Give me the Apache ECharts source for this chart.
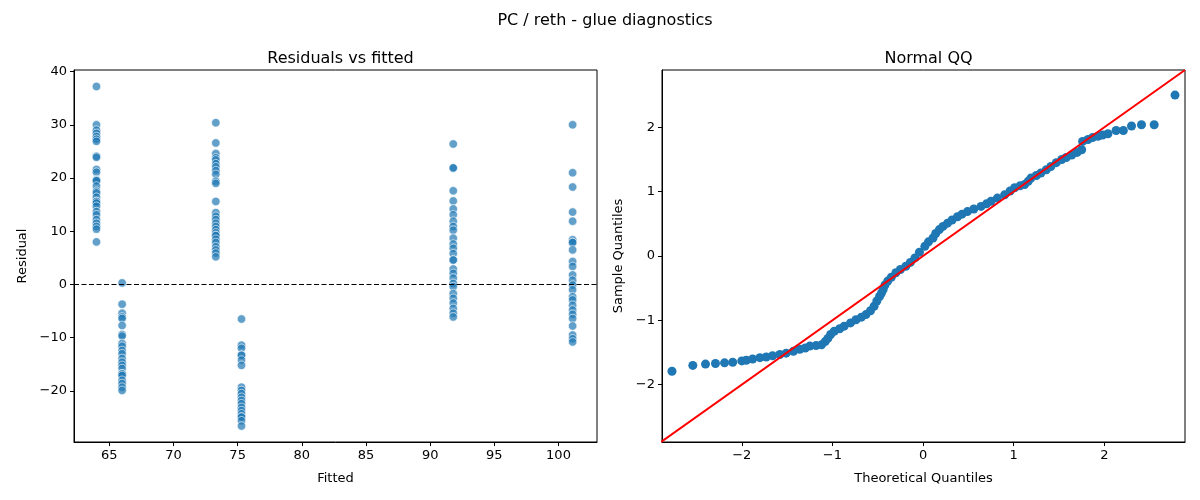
<!DOCTYPE html>
<html>
<head>
<meta charset="utf-8">
<script src="https://cdn.jsdelivr.net/npm/echarts@6/dist/echarts.min.js"></script>
<style>
html, body { margin: 0; padding: 0; background: #fff; }
#chart { width: 1200px; height: 500px; }
</style>
</head>
<body>
<div id="chart"></div>
<script>
// fitted levels (one column of residuals each)
var fittedLevels = [64.0, 66.0, 73.3, 75.3, 91.8, 101.1];

// residuals, per fitted level
var resid64 = [37.2, 30.0, 29.0, 28.4, 27.8, 27.3, 26.9, 24.1, 23.9, 21.6, 21.1, 19.7, 19.5, 19.5, 18.5, 17.5, 17.2, 16.4, 15.6, 15.6, 15.3, 14.7, 13.7, 13.1, 12.2, 11.5, 10.9, 10.4, 8.0];
var resid66 = [0.3, -3.7, -5.4, -6.1, -6.4, -7.7, -9.4, -9.7, -11.1, -11.6, -12.4, -13.0, -13.9, -14.6, -15.2, -15.8, -16.8, -16.8, -17.1, -18.0, -18.6, -19.3, -19.9];
var resid73 = [30.4, 26.6, 24.6, 23.8, 23.4, 22.7, 22.1, 21.4, 20.7, 19.4, 19.0, 15.6, 13.5, 12.8, 12.2, 11.5, 10.9, 10.3, 9.7, 9.2, 9.2, 8.5, 7.9, 7.1, 6.5, 5.9, 5.2];
var resid75 = [-6.5, -11.4, -12.0, -13.3, -13.3, -14.2, -15.2, -19.3, -19.9, -20.5, -21.2, -21.8, -22.4, -23.1, -23.7, -24.3, -24.9, -24.9, -25.6, -26.6];
var resid92 = [26.4, 21.9, 21.9, 17.6, 15.7, 14.2, 13.1, 11.9, 10.9, 10.2, 8.7, 7.6, 6.8, 5.8, 4.6, 4.6, 2.9, 2.1, 1.2, 0.2, -0.4, -1.7, -2.6, -3.5, -4.5, -5.4, -6.1];
var resid101 = [30.0, 21.0, 18.3, 13.6, 11.9, 8.4, 7.9, 7.9, 6.5, 4.3, 3.4, 1.8, 0.8, -0.1, -1.0, -2.3, -2.9, -3.9, -4.8, -5.6, -6.4, -7.8, -9.5, -10.2, -10.8];
var residGroups = [resid64, resid66, resid73, resid75, resid92, resid101];

// normal QQ points
var theoQ = [-2.77, -2.54, -2.40, -2.29, -2.19, -2.10, -2.00, -1.95, -1.88, -1.80, -1.73, -1.66, -1.58, -1.51, -1.43, -1.36, -1.30, -1.25, -1.18, -1.12, -1.08, -1.05, -1.02, -0.98, -0.92, -0.87, -0.80, -0.74, -0.68, -0.63, -0.58, -0.54, -0.51, -0.48, -0.46, -0.44, -0.42, -0.39, -0.35, -0.30, -0.25, -0.19, -0.14, -0.09, -0.04, 0.02, 0.06, 0.11, 0.14, 0.18, 0.22, 0.27, 0.32, 0.38, 0.43, 0.49, 0.56, 0.64, 0.70, 0.75, 0.82, 0.90, 0.96, 1.01, 1.07, 1.12, 1.16, 1.19, 1.25, 1.30, 1.36, 1.41, 1.47, 1.53, 1.58, 1.64, 1.70, 1.75, 1.76, 1.82, 1.87, 1.93, 1.98, 2.04, 2.13, 2.21, 2.30, 2.41, 2.55, 2.78];
var sampleQ = [-1.79, -1.70, -1.68, -1.67, -1.66, -1.65, -1.63, -1.62, -1.60, -1.58, -1.57, -1.55, -1.53, -1.51, -1.48, -1.45, -1.43, -1.40, -1.39, -1.38, -1.33, -1.28, -1.22, -1.17, -1.13, -1.09, -1.04, -0.99, -0.95, -0.91, -0.85, -0.78, -0.70, -0.63, -0.58, -0.52, -0.45, -0.39, -0.33, -0.26, -0.21, -0.16, -0.10, -0.03, 0.06, 0.15, 0.22, 0.28, 0.35, 0.41, 0.46, 0.51, 0.56, 0.61, 0.65, 0.69, 0.73, 0.77, 0.81, 0.85, 0.90, 0.95, 1.01, 1.06, 1.09, 1.11, 1.16, 1.21, 1.25, 1.29, 1.34, 1.39, 1.45, 1.50, 1.53, 1.57, 1.61, 1.65, 1.78, 1.81, 1.84, 1.86, 1.88, 1.90, 1.95, 1.95, 2.02, 2.04, 2.04, 2.50];

// tick labels
var fittedTicks = [65, 70, 75, 80, 85, 90, 95, 100];
var residTicks = [-20, -10, 0, 10, 20, 30, 40];
var quantTicks = [-2, -1, 0, 1, 2];

// axis limits
var fittedRange = [62.25, 103.0];
var residRange = [-29.6, 40.3];
var theoRange = [-2.88, 2.89];
var sampleRange = [-2.89, 2.89];

var FONT = 'DejaVu Sans';

function minus(v) {
    return String(v).replace('-', '\u2212');
}

function axis(gridIndex, range, ticks, name, nameGap) {
    return {
        type: 'value',
        gridIndex: gridIndex,
        min: range[0],
        max: range[1],
        name: name,
        nameLocation: 'middle',
        nameGap: nameGap,
        nameTextStyle: { color: '#000', fontSize: 13, fontFamily: FONT },
        axisLine: { show: true, onZero: false, lineStyle: { color: '#000', width: 1 } },
        axisTick: { show: true, inside: false, length: 4, customValues: ticks, lineStyle: { color: '#000' } },
        axisLabel: { customValues: ticks, color: '#000', fontSize: 13, fontFamily: FONT, margin: 7, formatter: minus },
        splitLine: { show: false }
    };
}

var scatterData = [];
residGroups.forEach(function (g, i) {
    g.forEach(function (r) {
        scatterData.push([fittedLevels[i], r]);
    });
});

var qqData = theoQ.map(function (x, i) {
    return [x, sampleQ[i]];
});

var option = {
    backgroundColor: '#fff',
    animation: false,
    title: [{
        text: 'PC / reth - glue diagnostics',
        left: 600, top: 8, textAlign: 'center',
        textStyle: { fontSize: 16, fontWeight: 'normal', color: '#000', fontFamily: FONT }
    }, {
        text: 'Residuals vs fitted',
        left: 335.5, top: 46, textAlign: 'center',
        textStyle: { fontSize: 16, fontWeight: 'normal', color: '#000', fontFamily: FONT }
    }, {
        text: 'Normal QQ',
        left: 923.5, top: 46, textAlign: 'center',
        textStyle: { fontSize: 16, fontWeight: 'normal', color: '#000', fontFamily: FONT }
    }],
    grid: [
        { left: 74, top: 70, width: 523, height: 372, show: true, borderColor: '#000', borderWidth: 1, backgroundColor: 'transparent' },
        { left: 662, top: 70, width: 523, height: 372, show: true, borderColor: '#000', borderWidth: 1, backgroundColor: 'transparent' }
    ],
    xAxis: [
        axis(0, fittedRange, fittedTicks, 'Fitted', 30),
        axis(1, theoRange, quantTicks, 'Theoretical Quantiles', 30)
    ],
    yAxis: [
        axis(0, residRange, residTicks, 'Residual', 45),
        axis(1, sampleRange, quantTicks, 'Sample Quantiles', 37)
    ],
    series: [{
        type: 'scatter',
        xAxisIndex: 0, yAxisIndex: 0,
        symbolSize: 8.5,
        itemStyle: { color: 'rgba(31,119,180,0.7)', borderColor: '#fff', borderWidth: 0.6, opacity: 1 },
        data: scatterData,
        markLine: {
            silent: true,
            symbol: 'none',
            label: { show: false },
            lineStyle: { color: '#000', width: 1, type: [5, 2.5] },
            data: [{ yAxis: 0 }]
        }
    }, {
        type: 'scatter',
        xAxisIndex: 1, yAxisIndex: 1,
        symbolSize: 9,
        itemStyle: { color: '#1f77b4', opacity: 1 },
        data: qqData
    }, {
        // 45 degree reference line
        type: 'line',
        xAxisIndex: 1, yAxisIndex: 1,
        symbol: 'none',
        clip: true,
        lineStyle: { color: '#ff0000', width: 2 },
        data: [[sampleRange[0], sampleRange[0]], [theoRange[1], theoRange[1]]]
    }]
};

var chart = echarts.init(document.getElementById('chart'));
chart.setOption(option);
</script>
</body>
</html>
